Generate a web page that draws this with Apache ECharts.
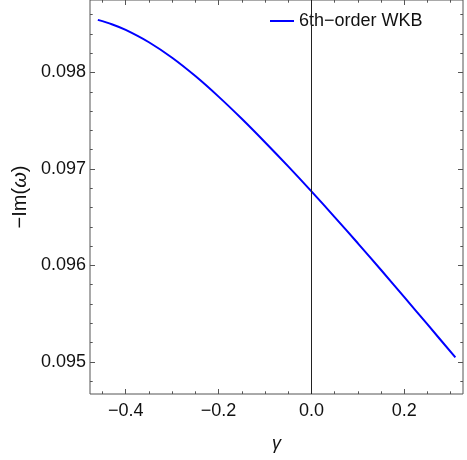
<!DOCTYPE html>
<html>
<head>
<meta charset="utf-8">
<script src="https://cdn.jsdelivr.net/npm/echarts@6/dist/echarts.min.js"></script>
<style>html,body{margin:0;padding:0;background:#fff;}#c{width:467px;height:460px;}</style>
</head>
<body>
<div id="c"></div>
<script>
var gammaValues = [-0.46, -0.43, -0.40, -0.35, -0.30, -0.25, -0.20, -0.15, -0.10, -0.05, 0.00, 0.05, 0.10, 0.15, 0.20, 0.25, 0.31];
var imOmegaValues = [0.098546, 0.098501, 0.098442, 0.098314, 0.098153, 0.097963, 0.097750, 0.097520, 0.097277, 0.097026, 0.096767, 0.096501, 0.096229, 0.095952, 0.095671, 0.095387, 0.095045];
var seriesName = '6th\u2212order WKB';
var xMajorTicks = [-0.4, -0.2, 0.0, 0.2];
var xMinorTicks = [-0.45, -0.40, -0.35, -0.30, -0.25, -0.20, -0.15, -0.10, -0.05, 0.00, 0.05, 0.10, 0.15, 0.20, 0.25, 0.30];
var yMajorTicks = [0.095, 0.096, 0.097, 0.098];
var yMinorTicks = [0.0948, 0.0950, 0.0952, 0.0954, 0.0956, 0.0958, 0.0960, 0.0962, 0.0964, 0.0966, 0.0968, 0.0970, 0.0972, 0.0974, 0.0976, 0.0978, 0.0980, 0.0982, 0.0984, 0.0986];
var xMin = -0.4769, xMax = 0.3264;
var yMin = 0.094666, yMax = 0.098752;

var FONT = '"Liberation Sans", Arial, sans-serif';
var TICK = '#555';
function fmtX(v){ var s = v.toFixed(1); return s.replace('-', '\u2212'); }
function fmtY(v){ return v.toFixed(3); }

function xAxisDef(pos, ticks, len, labels){
  return {
    type: 'value', gridIndex: 0, position: pos, min: xMin, max: xMax,
    axisLine: {show: false, onZero: false}, splitLine: {show: false},
    axisTick: {show: true, inside: true, length: len, customValues: ticks, lineStyle: {color: TICK, width: 1}},
    axisLabel: labels ? {show: true, customValues: ticks, formatter: fmtX, color: '#111', fontSize: 18, fontFamily: FONT, margin: 8} : {show: false}
  };
}
function yAxisDef(pos, ticks, len, labels){
  return {
    type: 'value', gridIndex: 0, position: pos, min: yMin, max: yMax,
    axisLine: {show: false, onZero: false}, splitLine: {show: false},
    axisTick: {show: true, inside: true, length: len, customValues: ticks, lineStyle: {color: TICK, width: 1}},
    axisLabel: labels ? {show: true, customValues: ticks, formatter: fmtY, color: '#111', fontSize: 18, fontFamily: FONT, margin: 4} : {show: false}
  };
}

var xAxes = [
  xAxisDef('bottom', xMajorTicks, 5, true),
  xAxisDef('bottom', xMinorTicks, 2.7, false),
  xAxisDef('top', xMajorTicks, 5, false),
  xAxisDef('top', xMinorTicks, 2.7, false)
];
xAxes[0].name = '\u03b3';
xAxes[0].nameLocation = 'middle';
xAxes[0].nameGap = 41;
xAxes[0].nameTextStyle = {fontSize: 18, fontStyle: 'italic', fontFamily: FONT, color: '#111', verticalAlign: 'top'};

var yAxes = [
  yAxisDef('left', yMajorTicks, 5, true),
  yAxisDef('left', yMinorTicks, 2.7, false),
  yAxisDef('right', yMajorTicks, 5, false),
  yAxisDef('right', yMinorTicks, 2.7, false)
];
yAxes[0].name = '{n|\u2212Im(}{i|\u03c9}{n|)}';
yAxes[0].nameLocation = 'middle';
yAxes[0].nameGap = 56;
yAxes[0].nameTextStyle = {fontSize: 20, fontFamily: FONT, color: '#111',
  rich: {n: {fontSize: 20, fontFamily: FONT, color: '#111'}, i: {fontSize: 20, fontFamily: FONT, fontStyle: 'italic', color: '#111'}}};

var data = gammaValues.map(function(g, i){ return [g, imOmegaValues[i]]; });

var chart = echarts.init(document.getElementById('c'), null, {renderer: 'canvas'});
chart.setOption({
  animation: false,
  backgroundColor: '#fff',
  grid: {left: 90, right: 4, top: -1, bottom: 66, show: true, borderColor: '#555', borderWidth: 1, backgroundColor: 'transparent'},
  legend: {
    show: true, left: 265, top: 7, itemWidth: 24, itemHeight: 2, itemGap: 10,
    icon: 'rect',
    textStyle: {fontSize: 18, fontFamily: FONT, color: '#111'},
    data: [{name: seriesName, icon: 'rect'}]
  },
  xAxis: xAxes,
  yAxis: yAxes,
  series: [{
    name: seriesName, type: 'line', xAxisIndex: 0, yAxisIndex: 0,
    data: data, smooth: 0.3, symbol: 'none', showSymbol: false,
    lineStyle: {color: '#0000ff', width: 2}, itemStyle: {color: '#0000ff'},
    markLine: {
      silent: true, symbol: ['none', 'none'], label: {show: false},
      lineStyle: {color: '#222', width: 1, type: 'solid'},
      data: [{xAxis: 0}]
    }
  }]
});
</script>
</body>
</html>
